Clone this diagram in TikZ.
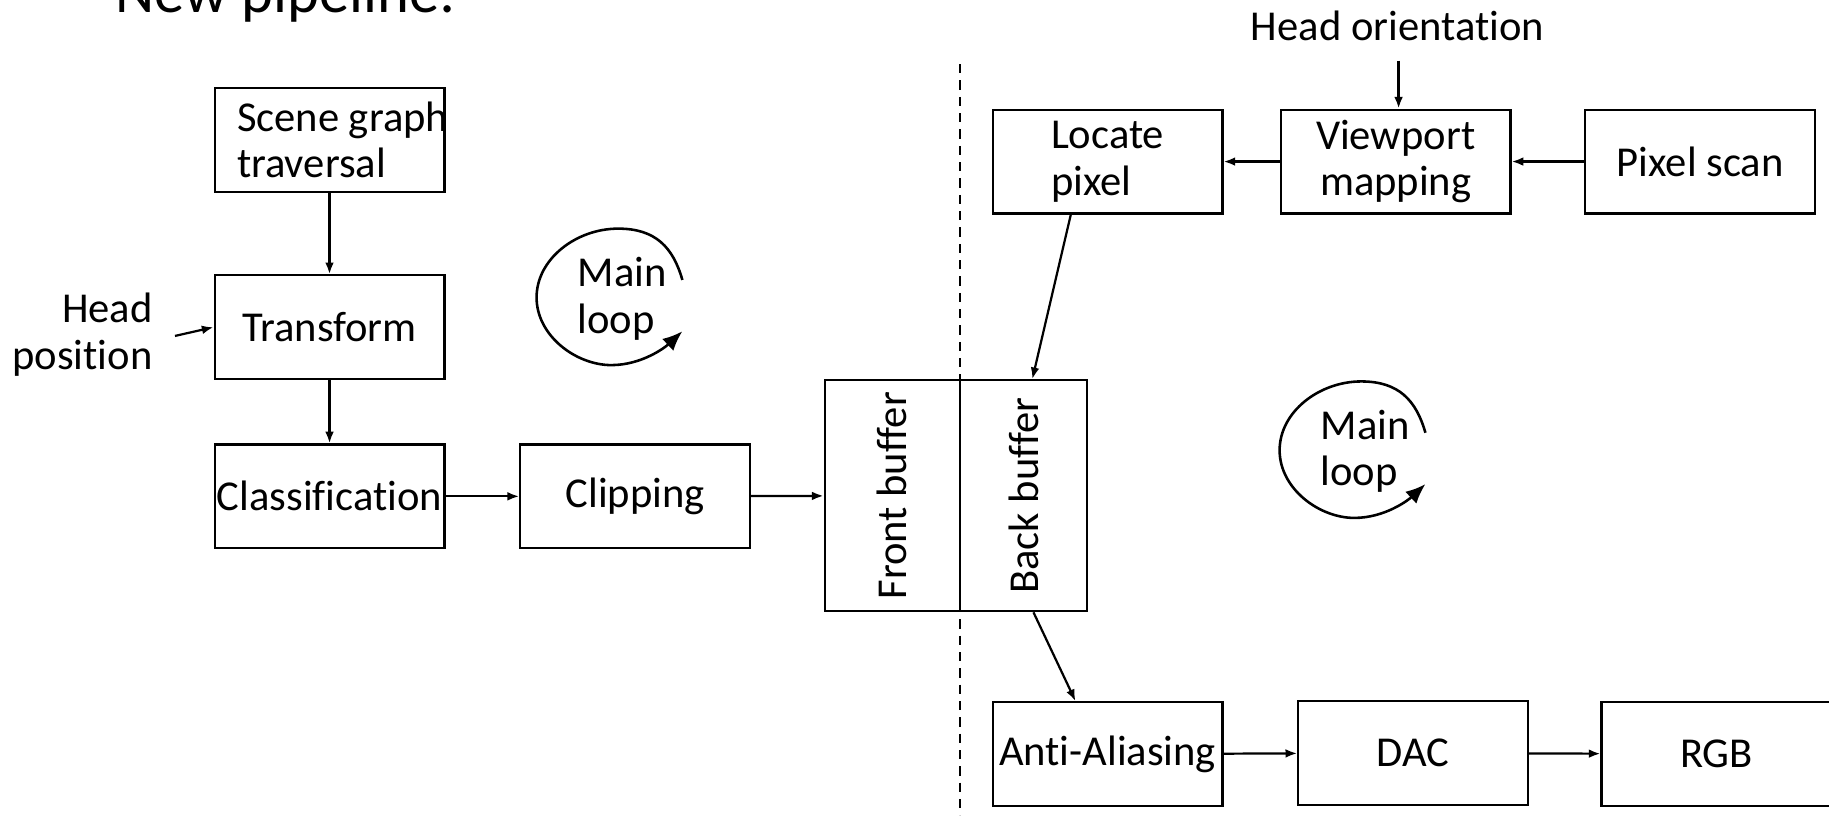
\documentclass[tikz,border=0pt]{standalone}
\usepackage{fontspec}
\setmainfont{Carlito}[RawFeature={-liga;-clig;-calt;-dlig}]
\usetikzlibrary{arrows.meta}

\tikzset{
  txt/.style={font=\fontsize{36.5}{40}\selectfont, inner sep=0pt},
  stagebox/.style={txt, draw, line width=1.9pt, minimum width=197pt, minimum height=89pt},
  bufbox/.style={txt, draw, line width=1.9pt, minimum height=198pt},
  flow/.style={line width=1.9pt, -{Latex[length=10pt,width=7.5pt]}},
  loopline/.style={line width=2.2pt, -{Latex[length=17pt,width=14pt]}},
  divider/.style={line width=1.8pt, dash pattern=on 8pt off 6pt},
  mainloop/.pic={
    \draw[loopline] (585,240)
      .. controls (577,212) and (562,196) .. (530,196)
      .. controls (494,196) and (460,222) .. (460,255)
      .. controls (460,288) and (494,313) .. (524,313)
      .. controls (550,313) and (570,298) .. (585,284);
    \node[txt, align=left, anchor=west] (-lbl) at (495,256) {Main\\loop};
  }
}

\begin{document}
\begin{tikzpicture}[x=1pt, y=-1pt]
  \useasboundingbox (0,0) rectangle (1568,699);
  \clip (0,0) rectangle (1568,699);

  % heading, cut by the top edge
  \node[anchor=base west, inner sep=0pt, font=\fontsize{52}{56}\selectfont] (title) at (99,11) {New pipeline:};

  % split between the two halves of the pipeline
  \coordinate (dtop) at (823,55);
  \coordinate (dbot) at (823,699);
  \draw[divider] (dtop) -- (dbot);

  % geometry stage
  \node[stagebox] (sg) at (282.5,120) {};
  \node[txt, align=left, anchor=west] (sgt) at (203,120) {Scene graph\\traversal};
  \node[stagebox] (tr) at (282.5,280.5) {Transform};
  \node[stagebox] (cl) at (282.5,425.5) {Classification};
  \node[stagebox] (clip) at (544.5,425.5) {Clipping};
  \node[txt, align=right, anchor=east] (hp) at (131,287) {Head\\position};
  \coordinate (hpa) at (150,288);

  % double buffer
  \node[bufbox, minimum width=116pt] (front) at (765,425) {\rotatebox{90}{Front buffer}};
  \node[bufbox, minimum width=109pt] (back) at (877.5,425) {\rotatebox{90}{Back buffer}};

  % display stage
  \node[stagebox, align=left] (loc) at (949.5,138.5) {Locate\\pixel};
  \node[stagebox, align=center] (vp) at (1196.5,138.5) {Viewport\\mapping};
  \node[stagebox] (ps) at (1457.5,138.5) {Pixel scan};
  \node[txt] (ho) at (1198,22) {Head orientation};
  \coordinate (hoa) at (1199,52);
  \node[stagebox] (aa) at (949.5,646.5) {Anti-Aliasing};
  \node[stagebox] (dac) at (1211.5,645.5) {DAC};
  \node[stagebox] (rgb) at (1471.5,646.5) {RGB};

  % connectors
  \draw[flow] (sg) -- (tr);
  \draw[flow] (tr) -- (cl);
  \draw[flow] (hpa) -- (tr.west);
  \draw[flow] (cl) -- (clip);
  \draw[flow] (clip) -- (front);
  \draw[flow] (hoa) -- (hoa |- vp.north);
  \draw[flow] (ps) -- (vp);
  \draw[flow] (vp) -- (loc);
  \draw[flow] ([xshift=-31.5pt]loc.south) -- ([xshift=7.5pt]back.north);
  \draw[flow] ([xshift=8.5pt]back.south) -- ([xshift=-27.5pt]aa.north);
  \draw[flow] (aa) -- (dac);
  \draw[flow] (dac) -- (rgb);

  % main loop markers
  \pic (loopa) at (0,0) {mainloop};
  \pic (loopb) at (637,131) {mainloop};
\end{tikzpicture}
\end{document}
